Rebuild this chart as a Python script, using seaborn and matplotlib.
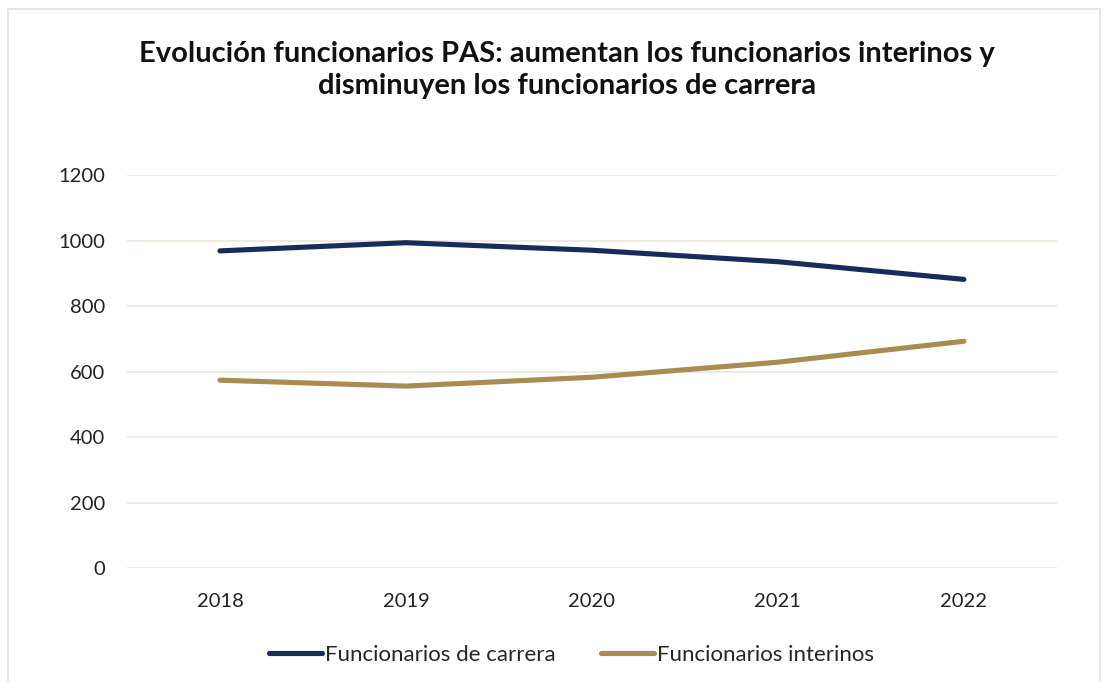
import matplotlib
matplotlib.use("Agg")
import matplotlib.pyplot as plt
import seaborn as sns
import pandas as pd
from matplotlib.patches import Rectangle

years = ["2018", "2019", "2020", "2021", "2022"]
carrera = [969, 994, 971, 936, 882]
interinos = [574, 556, 583, 629, 693]
series_names = ["Funcionarios de carrera", "Funcionarios interinos"]
yticks = [0, 200, 400, 600, 800, 1000, 1200]
title = "Evolución funcionarios PAS: aumentan los funcionarios interinos y\ndisminuyen los funcionarios de carrera"

df = pd.DataFrame({
    "year": years * 2,
    "value": carrera + interinos,
    "series": [series_names[0]] * len(years) + [series_names[1]] * len(years),
})
df["x"] = list(range(len(years))) * 2

sns.set_theme(style="white")
plt.rcParams["font.family"] = ["Lato", "DejaVu Sans"]

fig = plt.figure(figsize=(11.09, 6.82), dpi=100)
ax = fig.add_axes([0.1145, 0.167, 0.8385, 0.576])

palette = {series_names[0]: "#1B2A5C", series_names[1]: "#AA8C52"}
sns.lineplot(data=df, x="x", y="value", hue="series", palette=palette,
             linewidth=3.7, ax=ax, legend=True, solid_capstyle="round")

ax.set_xlim(-0.5, len(years) - 0.5)
ax.set_ylim(0, 1200)
ax.set_yticks(yticks)
ax.set_yticklabels([str(t) for t in yticks], fontsize=14.5, color="#222222")
ax.set_xticks(range(len(years)))
ax.set_xticklabels(years, fontsize=14.5, color="#222222")
ax.tick_params(axis="both", length=0)
ax.tick_params(axis="y", pad=16)
ax.tick_params(axis="x", pad=18)
ax.yaxis.grid(True, color="#EDE8DC", linewidth=1.3)
ax.xaxis.grid(False)
for s in ax.spines.values():
    s.set_visible(False)
ax.set_xlabel("")
ax.set_ylabel("")

handles, labels = ax.get_legend_handles_labels()
leg = ax.legend(handles, labels, loc="center", bbox_to_anchor=(0.478, -0.22),
                ncol=2, frameon=False, fontsize=16, handlelength=2.4,
                handletextpad=0.15, columnspacing=2.0)
for h in leg.get_lines():
    h.set_linewidth(3.7)
    h.set_solid_capstyle("round")

fig.text(0.511, 1 - 70 / 682, title, fontsize=21, fontweight="bold", ha="center",
         va="center", linespacing=1.3, color="#111111")

fig.patches.append(Rectangle((8 / 1109, -0.05), (1100 - 8) / 1109, 1.0 - 9 / 682 + 0.05,
                             transform=fig.transFigure, fill=False,
                             edgecolor="#E6E2DA", linewidth=1.2))

fig.savefig("out.png", dpi=100)
